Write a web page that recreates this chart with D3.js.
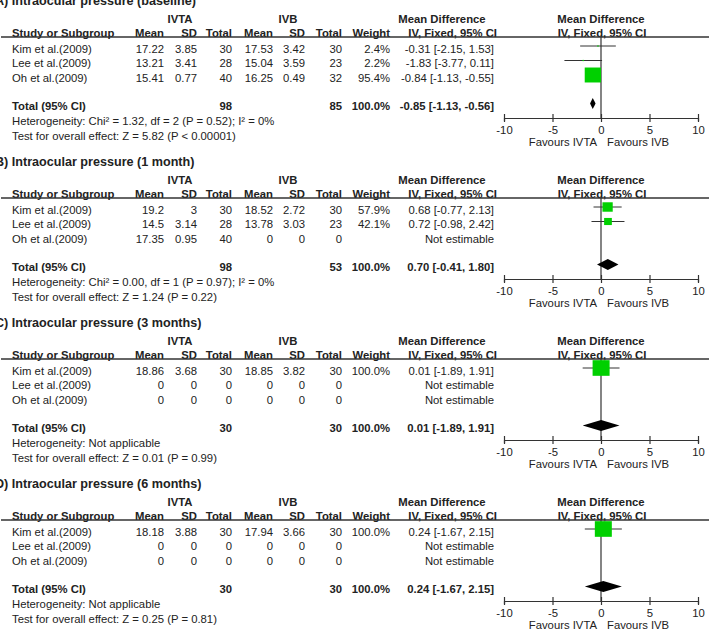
<!DOCTYPE html>
<html lang="en">
<head>
    <meta charset="UTF-8">
    <title>Intraocular pressure forest plots</title>
    <script src="https://cdn.jsdelivr.net/npm/d3@7"></script>
    <style>
        body { margin: 0; background: #fff; }
        text { font-family: "Liberation Sans", Arial, sans-serif; font-size: 11.3px; fill: #222; }
        .bold { font-weight: bold; }
        .title { font-weight: bold; font-size: 12.6px; }
    </style>
</head>
<body>

<script>
    // panel titles and studies
    var titles = [
        "A) Intraocular pressure (baseline)",
        "B) Intraocular pressure (1 month)",
        "C) Intraocular pressure (3 months)",
        "D) Intraocular pressure (6 months)"
    ];
    var studies = ["Kim et al.(2009)", "Lee et al.(2009)", "Oh et al.(2009)"];

    // IVTA group
    var ivtaMean = [[17.22, 13.21, 15.41], [19.2, 14.5, 17.35], [18.86, 0, 0], [18.18, 0, 0]];
    var ivtaSD   = [[3.85, 3.41, 0.77], [3, 3.14, 0.95], [3.68, 0, 0], [3.88, 0, 0]];
    var ivtaN    = [[30, 28, 40], [30, 28, 40], [30, 0, 0], [30, 0, 0]];
    // IVB group
    var ivbMean = [[17.53, 15.04, 16.25], [18.52, 13.78, 0], [18.85, 0, 0], [17.94, 0, 0]];
    var ivbSD   = [[3.42, 3.59, 0.49], [2.72, 3.03, 0], [3.82, 0, 0], [3.66, 0, 0]];
    var ivbN    = [[30, 23, 32], [30, 23, 0], [30, 0, 0], [30, 0, 0]];

    // weights and mean differences (null = not estimable)
    var weight = [[2.4, 2.2, 95.4], [57.9, 42.1, null], [100.0, null, null], [100.0, null, null]];
    var md     = [[-0.31, -1.83, -0.84], [0.68, 0.72, null], [0.01, null, null], [0.24, null, null]];
    var ciLow  = [[-2.15, -3.77, -1.13], [-0.77, -0.98, null], [-1.89, null, null], [-1.67, null, null]];
    var ciHigh = [[1.53, 0.11, -0.55], [2.13, 2.42, null], [1.91, null, null], [2.15, null, null]];

    // pooled totals
    var totalIVTA = [98, 98, 30, 30];
    var totalIVB  = [85, 53, 30, 30];
    var totalMD   = [-0.85, 0.70, 0.01, 0.24];
    var totalLow  = [-1.13, -0.41, -1.89, -1.67];
    var totalHigh = [-0.56, 1.80, 1.91, 2.15];

    var heterogeneity = [
        "Heterogeneity: Chi\u00b2 = 1.32, df = 2 (P = 0.52); I\u00b2 = 0%",
        "Heterogeneity: Chi\u00b2 = 0.00, df = 1 (P = 0.97); I\u00b2 = 0%",
        "Heterogeneity: Not applicable",
        "Heterogeneity: Not applicable"
    ];
    var overall = [
        "Test for overall effect: Z = 5.82 (P < 0.00001)",
        "Test for overall effect: Z = 1.24 (P = 0.22)",
        "Test for overall effect: Z = 0.01 (P = 0.99)",
        "Test for overall effect: Z = 0.25 (P = 0.81)"
    ];
    var axisTicks = [-10, -5, 0, 5, 10];

    var w = 714, h = 631;
    var panelTop = [1, 162, 323, 484];
    // right edges of the number columns
    var colX = [164, 197, 232, 273, 305, 342, 390, 494];

    var xScale = d3.scaleLinear().domain([-10, 10]).range([504, 698]);
    // box size from weight
    var boxScale = d3.scaleLinear().domain([0, 100]).range([1, 17]);

    var svg = d3.select("body").append("svg")
        .attr("width", w)
        .attr("height", h);

    function ciText(m, l, u) {
        return m.toFixed(2) + " [" + l.toFixed(2) + ", " + u.toFixed(2) + "]";
    }

    titles.forEach(function (title, p) {
        var g = svg.append("g").attr("transform", "translate(0," + panelTop[p] + ")");
        var rowY = [48, 62.5, 77];
        var lineY = 36, axisY = 117, totalY = 105.5;

        g.append("text").attr("class", "title").attr("x", -5).attr("y", 0).attr("dy", "0.35em").text(title);

        // group headers
        g.append("text").attr("class", "bold").attr("x", 180).attr("y", 18).attr("dy", "0.35em")
            .attr("text-anchor", "middle").text("IVTA");
        g.append("text").attr("class", "bold").attr("x", 288).attr("y", 18).attr("dy", "0.35em")
            .attr("text-anchor", "middle").text("IVB");
        g.append("text").attr("class", "bold").attr("x", 442).attr("y", 18).attr("dy", "0.35em")
            .attr("text-anchor", "middle").text("Mean Difference");
        g.append("text").attr("class", "bold").attr("x", 601).attr("y", 18).attr("dy", "0.35em")
            .attr("text-anchor", "middle").text("Mean Difference");

        // column headers
        g.append("text").attr("class", "bold").attr("x", 12).attr("y", 32).attr("dy", "0.35em").text("Study or Subgroup");
        var heads = ["Mean", "SD", "Total", "Mean", "SD", "Total", "Weight", "IV, Fixed, 95% CI"];
        g.selectAll(".head").data(heads).enter().append("text")
            .attr("class", "bold head")
            .attr("x", function (d, i) { return i == 7 ? 497 : colX[i]; })
            .attr("y", 32).attr("dy", "0.35em")
            .attr("text-anchor", "end")
            .text(function (d) { return d; });
        g.append("text").attr("class", "bold").attr("x", 602).attr("y", 32).attr("dy", "0.35em")
            .attr("text-anchor", "middle").text("IV, Fixed, 95% CI");

        g.append("line").attr("x1", 1).attr("x2", 709).attr("y1", lineY).attr("y2", lineY)
            .attr("stroke", "#333").attr("stroke-width", 1.5);

        // study rows
        studies.forEach(function (s, i) {
            var y = rowY[i];
            g.append("text").attr("x", 12).attr("y", y).attr("dy", "0.35em").text(s);
            var vals = [ivtaMean[p][i], ivtaSD[p][i], ivtaN[p][i], ivbMean[p][i], ivbSD[p][i], ivbN[p][i]];
            vals.forEach(function (v, j) {
                g.append("text").attr("x", colX[j]).attr("y", y).attr("dy", "0.35em")
                    .attr("text-anchor", "end").text(String(v));
            });
            if (weight[p][i] != null) {
                g.append("text").attr("x", colX[6]).attr("y", y).attr("dy", "0.35em")
                    .attr("text-anchor", "end").text(weight[p][i].toFixed(1) + "%");
                g.append("text").attr("x", colX[7]).attr("y", y).attr("dy", "0.35em")
                    .attr("text-anchor", "end").text(ciText(md[p][i], ciLow[p][i], ciHigh[p][i]));
            } else {
                g.append("text").attr("x", colX[7]).attr("y", y).attr("dy", "0.35em")
                    .attr("text-anchor", "end").text("Not estimable");
            }
        });

        // total row
        g.append("text").attr("class", "bold").attr("x", 12).attr("y", totalY).attr("dy", "0.35em").text("Total (95% CI)");
        g.append("text").attr("class", "bold").attr("x", colX[2]).attr("y", totalY).attr("dy", "0.35em")
            .attr("text-anchor", "end").text(totalIVTA[p]);
        g.append("text").attr("class", "bold").attr("x", colX[5]).attr("y", totalY).attr("dy", "0.35em")
            .attr("text-anchor", "end").text(totalIVB[p]);
        g.append("text").attr("class", "bold").attr("x", colX[6]).attr("y", totalY).attr("dy", "0.35em")
            .attr("text-anchor", "end").text("100.0%");
        g.append("text").attr("class", "bold").attr("x", colX[7]).attr("y", totalY).attr("dy", "0.35em")
            .attr("text-anchor", "end").text(ciText(totalMD[p], totalLow[p], totalHigh[p]));

        g.append("text").attr("x", 12).attr("y", 120.5).attr("dy", "0.35em").text(heterogeneity[p]);
        g.append("text").attr("x", 12).attr("y", 135.5).attr("dy", "0.35em").text(overall[p]);

        // forest plot: zero line
        g.append("line").attr("x1", xScale(0)).attr("x2", xScale(0))
            .attr("y1", lineY).attr("y2", axisY)
            .attr("stroke", "#333").attr("stroke-width", 1.2);

        // study CI lines and boxes
        var rows = [0, 1, 2].filter(function (i) { return md[p][i] != null; });
        g.selectAll(".ci").data(rows).enter().append("line")
            .attr("class", "ci")
            .attr("x1", function (i) { return xScale(ciLow[p][i]); })
            .attr("x2", function (i) { return xScale(ciHigh[p][i]); })
            .attr("y1", function (i) { return rowY[i] - 3; })
            .attr("y2", function (i) { return rowY[i] - 3; })
            .attr("stroke", "#333").attr("stroke-width", 1);
        g.selectAll(".box").data(rows).enter().append("rect")
            .attr("class", "box")
            .attr("x", function (i) { return xScale(md[p][i]) - boxScale(weight[p][i]) / 2; })
            .attr("y", function (i) { return rowY[i] - 3 - boxScale(weight[p][i]) * 0.46; })
            .attr("width", function (i) { return boxScale(weight[p][i]); })
            .attr("height", function (i) { return boxScale(weight[p][i]) * 0.92; })
            .attr("fill", "#00d000");

        // pooled diamond
        var dy = totalY - 3;
        g.append("polygon")
            .attr("points", [
                [xScale(totalLow[p]), dy],
                [xScale(totalMD[p]), dy - 5.5],
                [xScale(totalHigh[p]), dy],
                [xScale(totalMD[p]), dy + 5.5]
            ].map(function (d) { return d.join(","); }).join(" "))
            .attr("fill", "#000");

        // axis
        var axis = d3.axisBottom(xScale).tickValues(axisTicks).tickSize(3).tickPadding(5)
            .tickFormat(function (d) { return String(d); });
        var ag = g.append("g").attr("transform", "translate(0," + axisY + ")").call(axis);
        ag.select(".domain").attr("stroke", "#333").attr("stroke-width", 1.2);
        ag.selectAll(".tick line").attr("y1", -4).attr("y2", 4).attr("stroke", "#333").attr("stroke-width", 1.2);
        ag.selectAll(".tick text").attr("fill", "#222")
            .style("font-family", "'Liberation Sans', Arial, sans-serif").style("font-size", "11.3px");

        g.append("text").attr("x", 597).attr("y", 141).attr("dy", "0.35em")
            .attr("text-anchor", "end").text("Favours IVTA");
        g.append("text").attr("x", 607).attr("y", 141).attr("dy", "0.35em").text("Favours IVB");
    });
</script>

</body>
</html>
